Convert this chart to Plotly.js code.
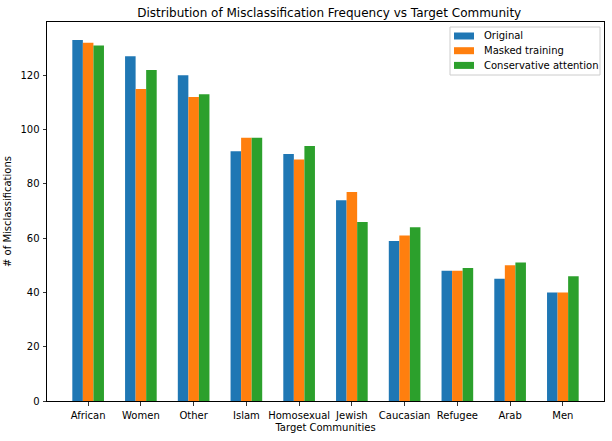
<!DOCTYPE html>
<html>
<head>
<meta charset="utf-8">
<script src="https://cdn.plot.ly/plotly-3.0.1.min.js"></script>
<style>
  html, body { margin: 0; padding: 0; background: #fff; }
  #plot { width: 612px; height: 441px; }
</style>
</head>
<body>
<div id="plot"></div>
<script>
const communities = ['African', 'Women', 'Other', 'Islam', 'Homosexual', 'Jewish', 'Caucasian', 'Refugee', 'Arab', 'Men'];
const original = [133, 127, 120, 92, 91, 74, 59, 48, 45, 40];
const maskedTraining = [132, 115, 112, 97, 89, 77, 61, 48, 50, 40];
const conservativeAttention = [131, 122, 113, 97, 94, 66, 64, 49, 51, 46];

const seriesNames = ['Original', 'Masked training', 'Conservative attention'];
const seriesColors = ['#1f77b4', '#ff7f0e', '#2ca02c'];
const seriesValues = [original, maskedTraining, conservativeAttention];

const W = 612, H = 441;
const margin = { l: 47, r: 8, t: 22, b: 40 };
const plotW = W - margin.l - margin.r;
const plotH = H - margin.t - margin.b;
// pixel -> paper fraction helpers (for the matplotlib-style legend box)
const px = (x) => (x - margin.l) / plotW;
const py = (y) => (H - margin.b - y) / plotH;

const data = seriesValues.map((vals, i) => ({
  type: 'bar',
  name: seriesNames[i],
  x: communities,
  y: vals,
  marker: { color: seriesColors[i], line: { width: 0 } },
  showlegend: false
}));

// legend drawn matplotlib-style: compact rows, wide swatches
const shapes = [{
  type: 'rect', xref: 'paper', yref: 'paper',
  x0: px(450), x1: px(600), y0: py(75), y1: py(27),
  fillcolor: 'rgba(255,255,255,0.8)', line: { color: '#cccccc', width: 1 }
}];
const annotations = [];
seriesNames.forEach((name, i) => {
  const cy = 36 + i * 14.7;
  shapes.push({
    type: 'rect', xref: 'paper', yref: 'paper',
    x0: px(454), x1: px(474), y0: py(cy + 3.5), y1: py(cy - 3.5),
    fillcolor: seriesColors[i], line: { width: 0 }
  });
  annotations.push({
    xref: 'paper', yref: 'paper', x: px(482), y: py(cy),
    xanchor: 'left', yanchor: 'middle', showarrow: false,
    text: name, font: { size: 10, color: '#000' }
  });
});

const axisStyle = {
  showline: true,
  linecolor: '#000',
  linewidth: 1,
  mirror: true,
  ticks: 'outside',
  ticklen: 3.5,
  tickwidth: 0.8,
  tickcolor: '#000',
  showgrid: false,
  zeroline: false,
  tickfont: { size: 10, color: '#000' }
};

const layout = {
  width: W,
  height: H,
  font: { family: 'DejaVu Sans, sans-serif', size: 10, color: '#000' },
  paper_bgcolor: '#fff',
  plot_bgcolor: '#fff',
  title: { text: 'Distribution of Misclassification Frequency vs Target Community', font: { size: 12 }, x: 0.538, xanchor: 'center', y: 0.97, yanchor: 'middle' },
  barmode: 'group',
  bargap: 0.4,
  bargroupgap: 0,
  margin: margin,
  xaxis: Object.assign({}, axisStyle, {
    type: 'category',
    range: [-0.78, 9.78],
    ticklabelstandoff: 1,
    title: { text: 'Target Communities', font: { size: 10 }, standoff: 4 }
  }),
  yaxis: Object.assign({}, axisStyle, {
    range: [0, 139.65],
    tickvals: [0, 20, 40, 60, 80, 100, 120],
    ticklabelstandoff: 1,
    title: { text: '# of Misclassifications', font: { size: 10 }, standoff: 6 }
  }),
  shapes: shapes,
  annotations: annotations,
  showlegend: false
};

Plotly.newPlot('plot', data, layout, { displayModeBar: false, staticPlot: true });
</script>
</body>
</html>
